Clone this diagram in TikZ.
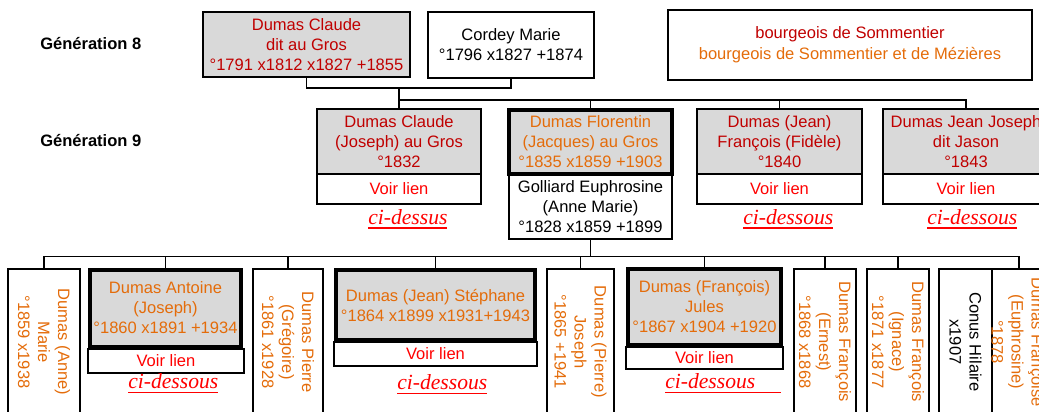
\documentclass[tikz,border=0pt]{standalone}
\usepackage{fontspec}
\setmainfont{Liberation Sans}
\newfontfamily\cifont{Liberation Serif}
\definecolor{dred}{HTML}{C00000}
\definecolor{orng}{HTML}{E46C0A}
\definecolor{lred}{HTML}{FF0000}
\definecolor{boxgray}{HTML}{D9D9D9}
\newcommand{\cid}[1]{\setbox0\hbox{#1}\rlap{\rule[-3.7pt]{\wd0}{1.1pt}}\box0}
\begin{document}
\begin{tikzpicture}[x=0.75pt,y=-0.75pt,
  every node/.style={inner sep=0pt, font=\fontsize{12.4}{15}\selectfont, align=center},
  wh/.style 2 args={minimum width=#1*0.75pt, minimum height=#2*0.75pt},
  pbox/.style={draw=black, line width=1pt, rectangle},
  grayf/.style={fill=boxgray},
  thickb/.style={line width=2.6pt},
  thickc/.style={line width=3pt},
  link/.style={pbox, text=lred},
  cidn/.style={anchor=west, text=lred, font=\cifont\itshape\fontsize{16.2}{18}\selectfont},
  vbox/.style={pbox, rotate=-90, text=orng},
  conn/.style={line width=0.8pt, draw=black},
  gen/.style={anchor=west, font=\bfseries\fontsize{12.4}{15}\selectfont}
]
\useasboundingbox (0,0) rectangle (1039,411);
\clip (0,0) rectangle (1039,411);

% generation labels
\node[gen] (g8) at (40,44) {Génération 8};
\node[gen] (g9) at (40,141) {Génération 9};

% generation 8
\node[pbox, grayf, wh={207}{65}, text=dred] (c8) at (306.5,44.5)
  {Dumas Claude\\dit au Gros\\°1791 x1812 x1827 +1855};
\node[pbox, wh={166}{66}] (cordey) at (511,45)
  {Cordey Marie\\°1796 x1827 +1874};
\node[pbox, wh={364}{70}, font=\fontsize{12.4}{15.8}\selectfont] (legend) at (850,45)
  {\textcolor{dred}{bourgeois de Sommentier}\\\textcolor{orng}{bourgeois de Sommentier et de Mézières}};

% generation 9
\node[pbox, grayf, wh={164}{65}, text=dred] (c9) at (399,141.5)
  {Dumas Claude\\(Joseph) au Gros\\°1832};
\node[link, wh={164}{30}] (c9l) at (399,189) {Voir lien};
\node[cidn] (c9c) at (368,219) {\cid{ci-dessus}};

\node[pbox, grayf, thickb, wh={163}{64}, text=orng] (fl9) at (590.5,142)
  {Dumas Florentin\\(Jacques) au Gros\\°1835 x1859 +1903};
\node[pbox, wh={163}{64}] (gol) at (590.5,207)
  {Golliard Euphrosine\\(Anne Marie)\\°1828 x1859 +1899};

\node[pbox, grayf, wh={165}{65}, text=dred] (jf9) at (779.5,141.5)
  {Dumas (Jean)\\François (Fidèle)\\°1840};
\node[link, wh={165}{30}] (jf9l) at (779.5,189) {Voir lien};
\node[cidn] (jf9c) at (743,219) {\cid{ci-dessous}};

\node[pbox, grayf, wh={166}{65}, text=dred] (jj9) at (966,141.5)
  {Dumas Jean Joseph\\dit Jason\\°1843};
\node[link, wh={166}{30}] (jj9l) at (966,189) {Voir lien};
\node[cidn] (jj9c) at (927,219) {\cid{ci-dessous}};

% generation 10
\node[vbox, wh={146}{72}] (anne) at (44,342)
  {Dumas (Anne)\\Marie\\°1859 x1938};
\node[pbox, grayf, thickc, wh={151}{77}, text=orng] (ant) at (165.5,308)
  {Dumas Antoine\\(Joseph)\\°1860 x1891 +1934};
\node[link, wh={156}{24}] (antl) at (166,361) {Voir lien};
\node[cidn] (antc) at (128,383) {\cid{ci-dessous}};

\node[vbox, wh={146}{70}] (greg) at (288,342)
  {Dumas Pierre\\(Grégoire)\\°1861 x1928};

\node[pbox, grayf, thickc, wh={199}{70}, text=orng] (ste) at (435.5,305)
  {Dumas (Jean) Stéphane\\°1864 x1899 x1931+1943};
\node[link, wh={203}{24}] (stel) at (435.5,354) {Voir lien};
\node[cidn] (stec) at (397,384) {\cid{ci-dessous}};

\node[vbox, wh={146}{67}] (pjos) at (580.5,342)
  {Dumas (Pierre)\\Joseph\\°1865 +1941};

\node[pbox, grayf, thickc, wh={153}{76}, text=orng] (jul) at (704.5,307)
  {Dumas (François)\\Jules\\°1867 x1904 +1920};
\node[link, wh={157}{22}] (jull) at (704.5,358) {Voir lien};
\node[cidn] (julc) at (665,383) {\cid{ci-dessous\hspace{19pt}}};

\node[vbox, wh={146}{62}] (ern) at (825,342)
  {Dumas François\\(Ernest)\\°1868 x1868};
\node[vbox, wh={146}{62}] (ign) at (898,342)
  {Dumas François\\(Ignace)\\°1871 x1877};
\node[vbox, wh={146}{53}, text=black] (con) at (965.5,342)
  {Conus Hilaire\\x1907};
\node[vbox, wh={146}{51}] (eup) at (1017.5,342)
  {Dumas Françoise\\(Euphrosine)\\°1878};

% connectors generation 8 -> 9
\coordinate (m8) at (399,88);
\coordinate (h9) at (399,100);
\draw[conn] (c8.south) |- (m8) -| (cordey.south);
\draw[conn] (m8) -- (c9.north);
\draw[conn] (h9) -| (fl9.north);
\draw[conn] (h9) -| (jf9.north);
\draw[conn] (h9) -| (jj9.north);

% connectors generation 9 -> 10
\coordinate (h10) at (590.5,256.5);
\draw[conn] (gol.south) -- (h10);
\draw[conn] (h10) -| (anne.west);
\draw[conn] (h10) -| (ant.north);
\draw[conn] (h10) -| (greg.west);
\draw[conn] (h10) -| (ste.north);
\draw[conn] (h10) -| (pjos.west);
\draw[conn] (h10) -| (jul.north);
\draw[conn] (h10) -| (ern.west);
\draw[conn] (h10) -| (ign.west);
\draw[conn] (h10) -| ([xshift=1.1pt]eup.west);
\end{tikzpicture}
\end{document}
